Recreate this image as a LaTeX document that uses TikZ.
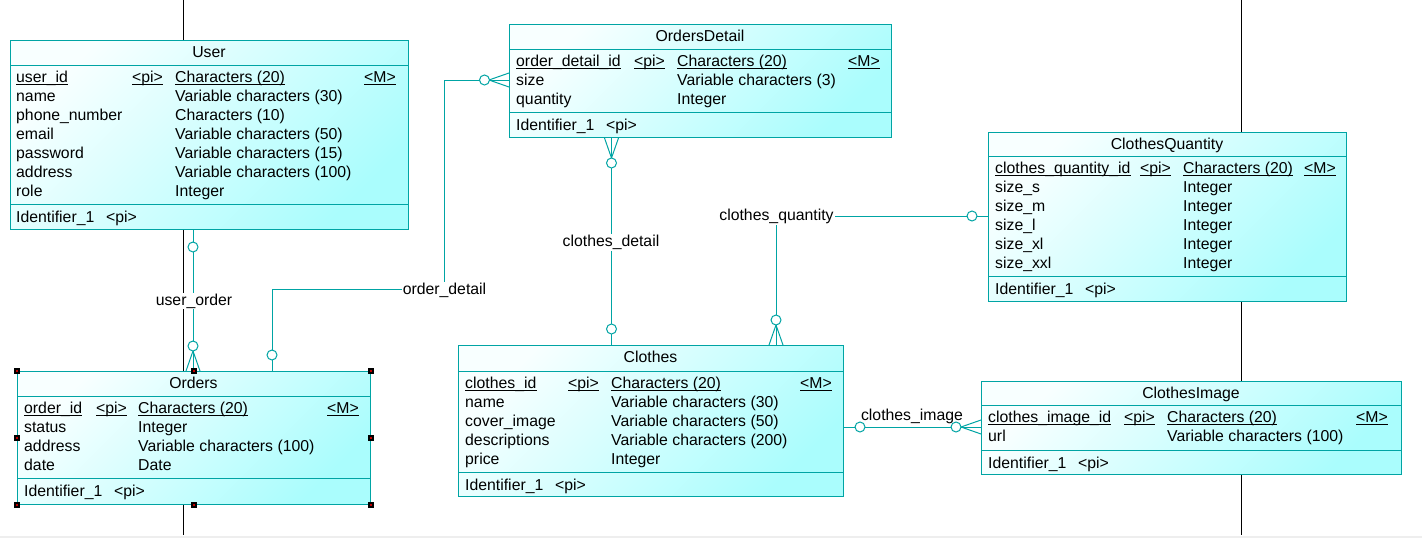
\documentclass[tikz,border=0pt]{standalone}
\usepackage{fontspec}
\setmainfont{Liberation Sans}
\usetikzlibrary{calc}
\definecolor{erline}{RGB}{0,164,164}
\definecolor{erfill}{RGB}{170,253,253}
\definecolor{erpale}{RGB}{248,255,255}
\definecolor{pagestrip}{RGB}{238,238,238}
\newcommand\erfont{\fontsize{15.8}{18}\selectfont}
\pgfdeclarelayer{pagelines}
\pgfdeclarelayer{links}
\pgfsetlayers{pagelines,links,main}
\tikzset{
  entity/.style={rectangle, draw=erline, line width=1pt, top color=erpale,
    bottom color=erfill, shading angle=45, inner sep=0, anchor=north west},
  divider/.style={draw=erline, line width=1pt},
  enttitle/.style={font=\erfont, inner sep=0, anchor=base, yshift=0.5pt},
  attr/.style={font=\erfont, inner sep=0, anchor=base west, yshift=0.5pt},
  pkcell/.style={attr, append after command={
      ([yshift=-1.7pt]\tikzlastnode.base west) edge[draw=black, line width=0.9pt]
      ([yshift=-1.7pt]\tikzlastnode.base east)}},
  rel/.style={draw=erline, line width=1pt},
  optend/.style={circle, draw=erline, line width=1pt, fill=white,
    minimum size=10pt, inner sep=0},
  rlabel/.style={font=\erfont, fill=white, inner sep=1pt, anchor=base},
  pagebreak/.style={draw=black, line width=1pt},
  handle/.style={rectangle, fill=black, minimum size=6pt, inner sep=0},
  handlecore/.style={rectangle, fill=red!75!black, minimum size=2pt, inner sep=0}
}
\begin{document}
\begin{tikzpicture}[x=1pt,y=-1pt]
\useasboundingbox (0,0) rectangle (1422,538);

% page background and page-break lines
\begin{pgfonlayer}{pagelines}
  \fill[white] (0,0) rectangle (1422,538);
  \fill[pagestrip] (0,536) rectangle (1422,538);
  \draw[pagebreak] (183,0) -- (183,535);
  \draw[pagebreak] (1241,0) -- (1241,535);
\end{pgfonlayer}

% ---------------- User
\node[entity, minimum width=398pt, minimum height=189pt] (user) at (10,40) {};
\draw[divider] (10,65) -- (408,65) (10,204) -- (408,204);
\node[enttitle] (user-title) at (209,58) {User};
\node[pkcell] (user-1a) at (16,83) {user\_id};
\node[pkcell] (user-1b) at (132,83) {<pi>};
\node[pkcell] (user-1c) at (175,83) {Characters (20)};
\node[pkcell] (user-1d) at (364,83) {<M>};
\node[attr] (user-2a) at (16,102) {name};
\node[attr] (user-2c) at (175,102) {Variable characters (30)};
\node[attr] (user-3a) at (16,121) {phone\_number};
\node[attr] (user-3c) at (175,121) {Characters (10)};
\node[attr] (user-4a) at (16,140) {email};
\node[attr] (user-4c) at (175,140) {Variable characters (50)};
\node[attr] (user-5a) at (16,159) {password};
\node[attr] (user-5c) at (175,159) {Variable characters (15)};
\node[attr] (user-6a) at (16,178) {address};
\node[attr] (user-6c) at (175,178) {Variable characters (100)};
\node[attr] (user-7a) at (16,197) {role};
\node[attr] (user-7c) at (175,197) {Integer};
\node[attr] (user-ida) at (16,222.5) {Identifier\_1};
\node[attr] (user-idb) at (106,222.5) {<pi>};

% ---------------- Orders
\node[entity, minimum width=353pt, minimum height=133pt] (orders) at (17,371) {};
\draw[divider] (17,396) -- (370,396) (17,478) -- (370,478);
\node[enttitle] (orders-title) at (193.5,389) {Orders};
\node[pkcell] (orders-1a) at (24,414) {order\_id};
\node[pkcell] (orders-1b) at (96,414) {<pi>};
\node[pkcell] (orders-1c) at (138,414) {Characters (20)};
\node[pkcell] (orders-1d) at (327,414) {<M>};
\node[attr] (orders-2a) at (24,433) {status};
\node[attr] (orders-2c) at (138,433) {Integer};
\node[attr] (orders-3a) at (24,452) {address};
\node[attr] (orders-3c) at (138,452) {Variable characters (100)};
\node[attr] (orders-4a) at (24,471) {date};
\node[attr] (orders-4c) at (138,471) {Date};
\node[attr] (orders-ida) at (24,496.5) {Identifier\_1};
\node[attr] (orders-idb) at (114,496.5) {<pi>};

% ---------------- OrdersDetail
\node[entity, minimum width=382pt, minimum height=113pt] (odetail) at (509,24) {};
\draw[divider] (509,49) -- (891,49) (509,112) -- (891,112);
\node[enttitle] (odetail-title) at (700,42) {OrdersDetail};
\node[pkcell] (odetail-1a) at (516,67) {order\_detail\_id};
\node[pkcell] (odetail-1b) at (634,67) {<pi>};
\node[pkcell] (odetail-1c) at (677,67) {Characters (20)};
\node[pkcell] (odetail-1d) at (848,67) {<M>};
\node[attr] (odetail-2a) at (516,86) {size};
\node[attr] (odetail-2c) at (677,86) {Variable characters (3)};
\node[attr] (odetail-3a) at (516,105) {quantity};
\node[attr] (odetail-3c) at (677,105) {Integer};
\node[attr] (odetail-ida) at (516,130.5) {Identifier\_1};
\node[attr] (odetail-idb) at (606,130.5) {<pi>};

% ---------------- ClothesQuantity
\node[entity, minimum width=358pt, minimum height=169pt] (cquant) at (988,132) {};
\draw[divider] (988,156) -- (1346,156) (988,276) -- (1346,276);
\node[enttitle] (cquant-title) at (1167,150) {ClothesQuantity};
\node[pkcell] (cquant-1a) at (995,174) {clothes\_quantity\_id};
\node[pkcell] (cquant-1b) at (1140,174) {<pi>};
\node[pkcell] (cquant-1c) at (1183,174) {Characters (20)};
\node[pkcell] (cquant-1d) at (1304,174) {<M>};
\node[attr] (cquant-2a) at (995,193) {size\_s};
\node[attr] (cquant-2c) at (1183,193) {Integer};
\node[attr] (cquant-3a) at (995,212) {size\_m};
\node[attr] (cquant-3c) at (1183,212) {Integer};
\node[attr] (cquant-4a) at (995,231) {size\_l};
\node[attr] (cquant-4c) at (1183,231) {Integer};
\node[attr] (cquant-5a) at (995,250) {size\_xl};
\node[attr] (cquant-5c) at (1183,250) {Integer};
\node[attr] (cquant-6a) at (995,269) {size\_xxl};
\node[attr] (cquant-6c) at (1183,269) {Integer};
\node[attr] (cquant-ida) at (995,294.5) {Identifier\_1};
\node[attr] (cquant-idb) at (1085,294.5) {<pi>};

% ---------------- Clothes
\node[entity, minimum width=385pt, minimum height=151pt] (clothes) at (458,345) {};
\draw[divider] (458,371) -- (843,371) (458,472) -- (843,472);
\node[enttitle] (clothes-title) at (650.5,363) {Clothes};
\node[pkcell] (clothes-1a) at (465,389) {clothes\_id};
\node[pkcell] (clothes-1b) at (568,389) {<pi>};
\node[pkcell] (clothes-1c) at (611,389) {Characters (20)};
\node[pkcell] (clothes-1d) at (800,389) {<M>};
\node[attr] (clothes-2a) at (465,408) {name};
\node[attr] (clothes-2c) at (611,408) {Variable characters (30)};
\node[attr] (clothes-3a) at (465,427) {cover\_image};
\node[attr] (clothes-3c) at (611,427) {Variable characters (50)};
\node[attr] (clothes-4a) at (465,446) {descriptions};
\node[attr] (clothes-4c) at (611,446) {Variable characters (200)};
\node[attr] (clothes-5a) at (465,465) {price};
\node[attr] (clothes-5c) at (611,465) {Integer};
\node[attr] (clothes-ida) at (465,490.5) {Identifier\_1};
\node[attr] (clothes-idb) at (555,490.5) {<pi>};

% ---------------- ClothesImage
\node[entity, minimum width=420pt, minimum height=93pt] (cimage) at (981,381) {};
\draw[divider] (981,405) -- (1401,405) (981,450) -- (1401,450);
\node[enttitle] (cimage-title) at (1191,399) {ClothesImage};
\node[pkcell] (cimage-1a) at (988,423) {clothes\_image\_id};
\node[pkcell] (cimage-1b) at (1124,423) {<pi>};
\node[pkcell] (cimage-1c) at (1167,423) {Characters (20)};
\node[pkcell] (cimage-1d) at (1356,423) {<M>};
\node[attr] (cimage-2a) at (988,442) {url};
\node[attr] (cimage-2c) at (1167,442) {Variable characters (100)};
\node[attr] (cimage-ida) at (988,468.5) {Identifier\_1};
\node[attr] (cimage-idb) at (1078,468.5) {<pi>};

% ---------------- relationships
\coordinate (x-uo) at (193,0);
\coordinate (x-od) at (272,0);
\coordinate (x-cd) at (611.5,0);
\coordinate (x-cq) at (776,0);
\coordinate (y-od) at (0,80);
\coordinate (y-cq) at (0,216);
\coordinate (y-ci) at (0,427);
\coordinate (bend-od) at (444,289);

\begin{pgfonlayer}{links}
  % user_order : User (0,1) -- Orders (0,n)
  \coordinate (uo-a) at (x-uo |- user.south);
  \coordinate (uo-b) at (x-uo |- orders.north);
  \draw[rel] (uo-a) -- (uo-b);
  \draw[rel] ($(uo-b)+(0,-20)$) -- ($(uo-b)+(-7,0)$)
             ($(uo-b)+(0,-20)$) -- ($(uo-b)+(7,0)$);
  \node[optend] (uo-oa) at ($(uo-a)+(0,17)$) {};
  \node[optend] (uo-ob) at ($(uo-b)+(0,-25)$) {};

  % order_detail : Orders (0,1) -- OrdersDetail (0,n)
  \coordinate (od-a) at (x-od |- orders.north);
  \coordinate (od-b) at (y-od -| odetail.west);
  \draw[rel] (od-a) |- (bend-od) |- (od-b);
  \draw[rel] ($(od-b)+(-20,0)$) -- ($(od-b)+(0,-7)$)
             ($(od-b)+(-20,0)$) -- ($(od-b)+(0,7)$);
  \node[optend] (od-oa) at ($(od-a)+(0,-16)$) {};
  \node[optend] (od-ob) at ($(od-b)+(-24.5,0)$) {};

  % clothes_detail : OrdersDetail (0,n) -- Clothes (0,1)
  \coordinate (cd-a) at (x-cd |- odetail.south);
  \coordinate (cd-b) at (x-cd |- clothes.north);
  \draw[rel] (cd-a) -- (cd-b);
  \draw[rel] ($(cd-a)+(0,20)$) -- ($(cd-a)+(-7,0)$)
             ($(cd-a)+(0,20)$) -- ($(cd-a)+(7,0)$);
  \node[optend] (cd-oa) at ($(cd-a)+(0,25)$) {};
  \node[optend] (cd-ob) at ($(cd-b)+(0,-16)$) {};

  % clothes_quantity : ClothesQuantity (0,1) -- Clothes (0,n)
  \coordinate (cq-a) at (y-cq -| cquant.west);
  \coordinate (cq-b) at (x-cq |- clothes.north);
  \draw[rel] (cq-a) -| (cq-b);
  \draw[rel] ($(cq-b)+(0,-20)$) -- ($(cq-b)+(-7,0)$)
             ($(cq-b)+(0,-20)$) -- ($(cq-b)+(7,0)$);
  \node[optend] (cq-oa) at ($(cq-a)+(-16,0)$) {};
  \node[optend] (cq-ob) at ($(cq-b)+(0,-25)$) {};

  % clothes_image : Clothes (0,1) -- ClothesImage (0,n)
  \coordinate (ci-a) at (y-ci -| clothes.east);
  \coordinate (ci-b) at (y-ci -| cimage.west);
  \draw[rel] (ci-a) -- (ci-b);
  \draw[rel] ($(ci-b)+(-20,0)$) -- ($(ci-b)+(0,-7)$)
             ($(ci-b)+(-20,0)$) -- ($(ci-b)+(0,7)$);
  \node[optend] (ci-oa) at ($(ci-a)+(16,0)$) {};
  \node[optend] (ci-ob) at ($(ci-b)+(-25,0)$) {};
\end{pgfonlayer}

% relationship names
\node[rlabel] (uo-name) at (194,305) {user\_order};
\node[rlabel] (od-name) at (444.5,294) {order\_detail};
\node[rlabel] (cd-name) at (611,246.5) {clothes\_detail};
\node[rlabel] (cq-name) at (776.5,220.5) {clothes\_quantity};
\node[rlabel, fill=none] (ci-name) at (912,420) {clothes\_image};

% selection handles on Orders
\foreach \a in {north west,north,north east,west,east,south west,south,south east}{
  \node[handle] (orders-h-\a) at (orders.\a) {};
  \node[handlecore] (orders-hc-\a) at (orders.\a) {};
}
\end{tikzpicture}
\end{document}
